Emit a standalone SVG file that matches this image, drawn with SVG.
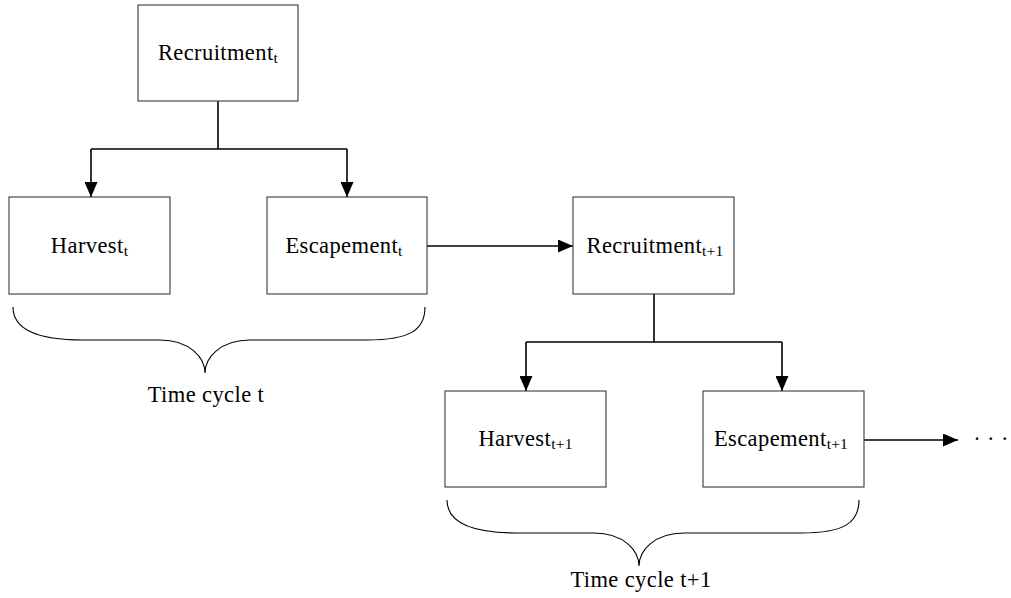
<svg xmlns="http://www.w3.org/2000/svg" width="1011" height="598" viewBox="0 0 1011 598">
<style>
  .box { fill: #ffffff; stroke: #3a3a3a; stroke-width: 1.1; }
  .lbl { font-family: "Liberation Serif", "Times New Roman", serif; font-size: 22.5px; letter-spacing: 0.4px; fill: #000; text-anchor: middle; }
  .sub { font-size: 15.5px; letter-spacing: 0.2px; }
  .con { fill: none; stroke: #000; stroke-width: 1.6; }
  .brace { fill: none; stroke: #000; stroke-width: 1.1; }
</style>
<defs>
  <marker id="arr" viewBox="0 0 15 13" refX="15" refY="6.5" markerWidth="15" markerHeight="13" markerUnits="userSpaceOnUse" orient="auto">
    <path d="M0,0 L15,6.5 L0,13 Z" fill="#000"/>
  </marker>
</defs>
<rect width="1011" height="598" fill="#ffffff"/>

<g id="connectors">
  <path class="con" d="M218,101 V149"/>
  <path class="con" d="M91,149 H347"/>
  <path class="con" d="M91,149 V197" marker-end="url(#arr)"/>
  <path class="con" d="M347,149 V197" marker-end="url(#arr)"/>
  <path class="con" d="M427,246 H573" marker-end="url(#arr)"/>
  <path class="con" d="M654,294 V342"/>
  <path class="con" d="M526,342 H782"/>
  <path class="con" d="M526,342 V391" marker-end="url(#arr)"/>
  <path class="con" d="M782,342 V391" marker-end="url(#arr)"/>
  <path class="con" d="M864,440 H958" marker-end="url(#arr)"/>
</g>

<g id="recruitment_t">
  <rect class="box" x="138" y="5" width="160" height="96"/>
  <text class="lbl" x="218" y="60">Recruitment<tspan class="sub" dy="3">t</tspan></text>
</g>
<g id="harvest_t">
  <rect class="box" x="9" y="197" width="161" height="97"/>
  <text class="lbl" x="89.5" y="252.5">Harvest<tspan class="sub" dy="3">t</tspan></text>
</g>
<g id="escapement_t">
  <rect class="box" x="267" y="197" width="160" height="97"/>
  <text class="lbl" x="344" y="252.5">Escapement<tspan class="sub" dy="3">t</tspan></text>
</g>
<g id="recruitment_t1">
  <rect class="box" x="573" y="197" width="161" height="97"/>
  <text class="lbl" x="655" y="252.5">Recruitment<tspan class="sub" dy="3">t+1</tspan></text>
</g>
<g id="harvest_t1">
  <rect class="box" x="445" y="391" width="161" height="96"/>
  <text class="lbl" x="525.5" y="446">Harvest<tspan class="sub" dy="3">t+1</tspan></text>
</g>
<g id="escapement_t1">
  <rect class="box" x="703" y="391" width="161" height="96"/>
  <text class="lbl" x="781" y="446">Escapement<tspan class="sub" dy="3">t+1</tspan></text>
</g>
<g id="ellipsis">
  <text class="lbl" x="991" y="446">· · ·</text>
</g>

<g id="brace_t">
  <path class="brace" d="M13,307 C13,330 40,340 83,340 L160,340 C190,340 205,358 205,373 C205,358 220,340 250,340 L367,340 C410,340 425,330 425,307"/>
  <text class="lbl" x="206" y="402">Time cycle t</text>
</g>
<g id="brace_t1">
  <path class="brace" d="M447,500 C447,523 474,533 517,533 L594,533 C624,533 639,551 639,566 C639,551 654,533 684,533 L801,533 C844,533 859,523 859,500"/>
  <text class="lbl" x="641" y="587">Time cycle t+1</text>
</g>
</svg>
